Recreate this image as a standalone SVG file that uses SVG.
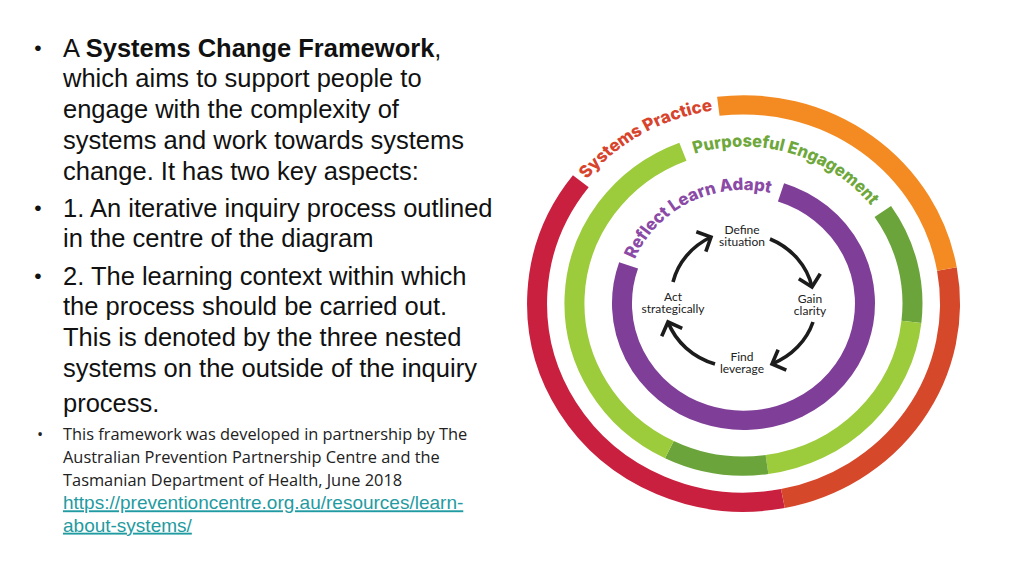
<svg xmlns="http://www.w3.org/2000/svg" width="1024" height="576" viewBox="0 0 1024 576">
<style>
.body{font-family:"Liberation Sans",Arial,sans-serif;font-size:25.5px;fill:#111}
.bul{font-family:"Liberation Sans",Arial,sans-serif;font-size:21px;fill:#111;text-anchor:middle}
.small{font-family:"Open Sans","Noto Sans",sans-serif;font-size:16.4px;fill:#222}
.link{font-family:"Liberation Sans",Arial,sans-serif;font-size:19px;fill:#1f9ba1;text-decoration:underline}
.ring{fill:none;stroke-width:20}
.ringtxt{font-family:Inter,"Noto Sans",sans-serif;font-weight:800;font-size:17.5px}
.lbl{font-family:Lato,"Noto Sans",sans-serif;font-size:12px;fill:#222;text-anchor:middle}
.arr{fill:none;stroke:#1c1c1c;stroke-width:3.6}
</style>
<defs>
<marker id="chev" markerUnits="userSpaceOnUse" markerWidth="30" markerHeight="30" viewBox="-15 -15 30 30" refX="0" refY="0" orient="auto" overflow="visible">
<path d="M-11,-11 L0,0 L-11,11" fill="none" stroke="#1c1c1c" stroke-width="3.6"/>
</marker>
<path id="tpSys" d="M -156.6 -129.1 A 203 203 0 0 1 0 -203"/>
<path id="tpPur" d="M -49.0 -155.5 A 163 163 0 0 1 141.2 -81.5"/>
<path id="tpRef" d="M -108.6 -46.1 A 118 118 0 0 1 59 -102.2"/>
</defs>

<g id="text-left">
<text class="bul" x="38" y="55">•</text>
<text class="body" x="63" y="56.5">A <tspan font-weight="bold">Systems Change Framework</tspan>,</text>
<text class="body" x="63" y="87.3">which aims to support people to</text>
<text class="body" x="63" y="118">engage with the complexity of</text>
<text class="body" x="63" y="148.8">systems and work towards systems</text>
<text class="body" x="63" y="179.6">change. It has two key aspects:</text>
<text class="bul" x="38" y="215">•</text>
<text class="body" x="63" y="216.5">1. An iterative inquiry process outlined</text>
<text class="body" x="63" y="247.3">in the centre of the diagram</text>
<text class="bul" x="38" y="283">•</text>
<text class="body" x="63" y="284.5">2. The learning context within which</text>
<text class="body" x="63" y="315.3">the process should be carried out.</text>
<text class="body" x="63" y="346">This is denoted by the three nested</text>
<text class="body" x="63" y="376.8">systems on the outside of the inquiry</text>
<text class="body" x="63" y="411.7">process.</text>
<text class="small" x="40" y="440" text-anchor="middle">•</text>
<text class="small" x="63" y="440">This framework was developed in partnership by The</text>
<text class="small" x="63" y="463.3">Australian Prevention Partnership Centre and the</text>
<text class="small" x="63" y="486">Tasmanian Department of Health, June 2018</text>
<text class="link" x="63" y="509.3">https://preventioncentre.org.au/resources/learn-</text>
<text class="link" x="63" y="531.7">about-systems/</text>
</g>

<g transform="translate(743.5 303.5) scale(1 0.962)">
<g id="ring-systems-practice">
<path class="ring" stroke="#c9203f" d="M 39.4 202.7 A 206.5 206.5 0 0 1 -162.7 -127.1"/>
<path class="ring" stroke="#d6482a" d="M 203.4 -35.9 A 206.5 206.5 0 0 1 39.4 202.7"/>
<path class="ring" stroke="#f48b22" d="M -25.2 -205.0 A 206.5 206.5 0 0 1 203.4 -35.9"/>
<text class="ringtxt" fill="#d8432c"><textPath href="#tpSys" textLength="148" lengthAdjust="spacingAndGlyphs">Systems Practice</textPath></text>
</g>
<g id="ring-purposeful-engagement">
<path class="ring" stroke="#6ba43a" d="M 139.3 -95.7 A 169 169 0 0 1 167.9 19.1"/>
<path class="ring" stroke="#9ccb3b" d="M 167.9 19.1 A 169 169 0 0 1 23.5 167.4"/>
<path class="ring" stroke="#6ba43a" d="M 23.5 167.4 A 169 169 0 0 1 -74.1 151.9"/>
<path class="ring" stroke="#9ccb3b" d="M -74.1 151.9 A 169 169 0 0 1 -60.6 -157.8"/>
<text class="ringtxt" fill="#6ea83c"><textPath href="#tpPur" textLength="196" lengthAdjust="spacingAndGlyphs">Purposeful Engagement</textPath></text>
</g>
<g id="ring-reflect-learn-adapt">
<path class="ring" stroke="#7f3f98" d="M 37.5 -115.6 A 121.5 121.5 0 1 1 -114.9 -39.6"/>
<text class="ringtxt" fill="#8a4aa6"><textPath href="#tpRef" textLength="165" lengthAdjust="spacingAndGlyphs">Reflect Learn Adapt</textPath></text>
</g>
</g>

<g id="node-define"><text class="lbl" x="742" y="233.5">Define<tspan x="742" dy="12.5">situation</tspan></text></g>
<g id="node-gain"><text class="lbl" x="810" y="302.5">Gain<tspan x="810" dy="12.5">clarity</tspan></text></g>
<g id="node-find"><text class="lbl" x="742" y="360.5">Find<tspan x="742" dy="12.5">leverage</tspan></text></g>
<g id="node-act"><text class="lbl" x="673" y="300.5">Act<tspan x="673" dy="12.5">strategically</tspan></text></g>

<g id="connectors">
<path class="arr" marker-end="url(#chev)" d="M 673 282 A 74 68 0 0 1 711 237"/>
<path class="arr" marker-end="url(#chev)" d="M 770 239 A 74 68 0 0 1 812 287"/>
<path class="arr" marker-end="url(#chev)" d="M 813 322 A 74 68 0 0 1 772 364"/>
<path class="arr" marker-end="url(#chev)" d="M 715 364 A 74 68 0 0 1 668 322"/>
</g>
</svg>
